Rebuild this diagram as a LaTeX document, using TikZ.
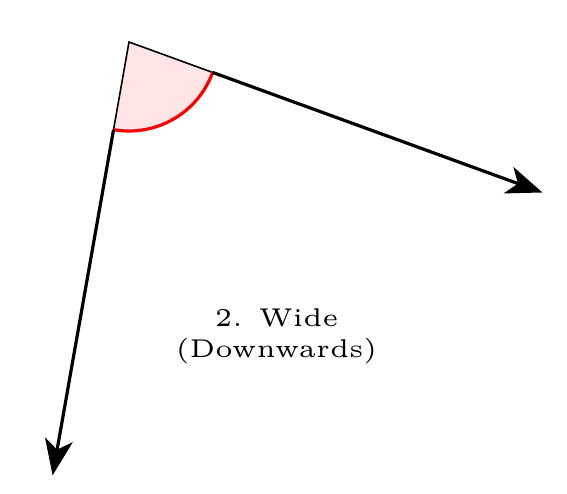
\documentclass[tikz,border=0pt]{standalone}
\usetikzlibrary{arrows.meta,calc}
\begin{document}
\begin{tikzpicture}[x=0.5pt,y=0.5pt,
  ray/.style={line width=1.6pt,-{Stealth[length=18pt,width=14pt,inset=5pt]}},
  sectoredge/.style={line width=0.8pt},
  anglearc/.style={red,line width=1.6pt},
  label/.style={align=center,scale=2.57,font=\tiny}]
\useasboundingbox (0,0) rectangle (567,493);
\coordinate (O) at (129,451);
\coordinate (A) at ($(O)+(-20:44.5pt)$);
\coordinate (B) at ($(O)+(-100:44.5pt)$);
\coordinate (TA) at ($(O)+(-20:220pt)$);
\coordinate (TB) at ($(O)+(-100:220pt)$);
\fill[red!10] (O) -- (B) arc[start angle=-100,end angle=-20,radius=44.5pt] -- cycle;
\draw[sectoredge] (B) -- (O) -- (A);
\draw[anglearc] (B) arc[start angle=-100,end angle=-20,radius=44.5pt];
\draw[ray] (A) -- (TA);
\draw[ray] (B) -- (TB);
\node[label] (L) at (276.5,157) {2. Wide\\(Downwards)};
\end{tikzpicture}
\end{document}
